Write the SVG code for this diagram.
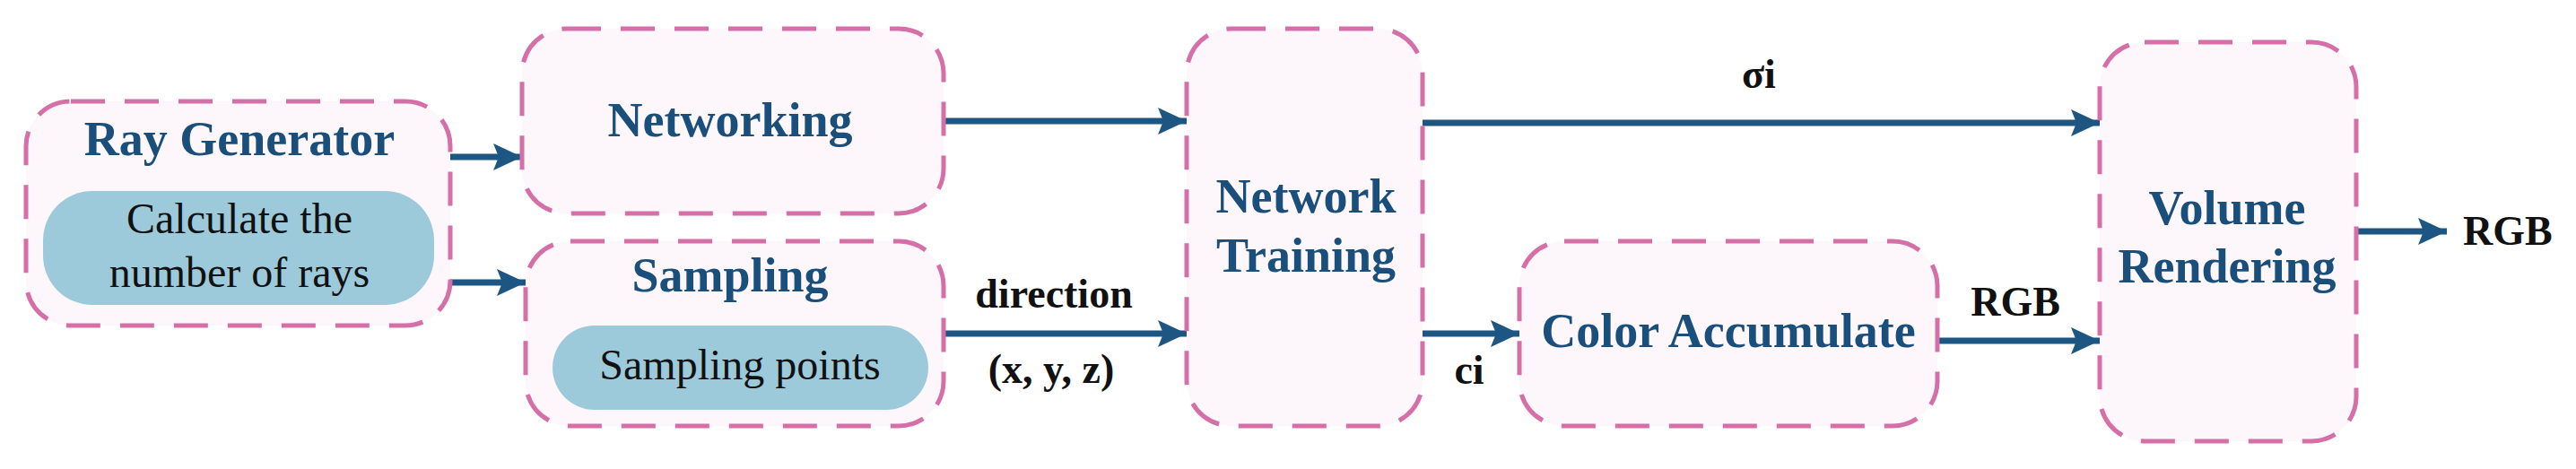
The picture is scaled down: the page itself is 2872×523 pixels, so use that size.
<svg xmlns="http://www.w3.org/2000/svg" width="2872" height="523" viewBox="0 0 2872 523">
<style>
.box{fill:#fdf6fa;stroke:#d56fa8;stroke-width:5;stroke-dasharray:38 22}
.pill{fill:#9dcadb}
.t{font-family:"Liberation Serif",serif;font-weight:bold;font-size:54px;fill:#1b4f7b;text-anchor:middle}
.s{font-family:"Liberation Serif",serif;font-size:48px;fill:#111;text-anchor:middle}
.l{font-family:"Liberation Serif",serif;font-weight:bold;font-size:46px;fill:#111;text-anchor:middle}
.c{stroke:#1d5583;stroke-width:7;fill:none;marker-end:url(#ah)}
</style>
<defs>
<marker id="ah" markerWidth="32" markerHeight="30" refX="32" refY="15" markerUnits="userSpaceOnUse" orient="auto">
<path d="M0,0 L32,15 L0,30 L6,15 Z" fill="#1d5583"/>
</marker>
</defs>
<rect width="2872" height="523" fill="#fff"/>
<g id="connectors">
<line class="c" x1="502" y1="175" x2="582" y2="175"/>
<line class="c" x1="502" y1="315" x2="586" y2="315"/>
<line class="c" x1="1052" y1="135" x2="1323" y2="135"/>
<line class="c" x1="1052" y1="372" x2="1323" y2="372"/>
<line class="c" x1="1586" y1="137" x2="2341" y2="137"/>
<line class="c" x1="1586" y1="372" x2="1694" y2="372"/>
<line class="c" x1="2160" y1="380" x2="2341" y2="380"/>
<line class="c" x1="2627" y1="258" x2="2728" y2="258"/>
<text class="l" x="1175" y="343">direction</text>
<text class="l" x="1172" y="427">(x, y, z)</text>
<text class="l" x="1961" y="98">σi</text>
<text class="l" x="1638" y="428">ci</text>
<text class="l" x="2247" y="352">RGB</text>
<text class="l" x="2746" y="273" style="text-anchor:start">RGB</text>
</g>
<g id="ray-generator">
<rect class="box" x="29" y="113" width="473" height="250" rx="50"/>
<text class="t" x="267" y="173">Ray Generator</text>
<rect class="pill" x="48" y="213" width="436" height="127" rx="55"/>
<text class="s" x="267" y="260">Calculate the</text>
<text class="s" x="267" y="320">number of rays</text>
</g>
<g id="networking">
<rect class="box" x="582" y="32" width="470" height="206" rx="50"/>
<text class="t" x="814" y="152">Networking</text>
</g>
<g id="sampling">
<rect class="box" x="586" y="269" width="466" height="206" rx="50"/>
<text class="t" x="814" y="325">Sampling</text>
<rect class="pill" x="616" y="363" width="419" height="94" rx="47"/>
<text class="s" x="825" y="423">Sampling points</text>
</g>
<g id="network-training">
<rect class="box" x="1323" y="32" width="263" height="443" rx="50"/>
<text class="t" x="1456" y="237">Network</text>
<text class="t" x="1456" y="303">Training</text>
</g>
<g id="color-accumulate">
<rect class="box" x="1694" y="269" width="466" height="206" rx="50"/>
<text class="t" x="1927" y="387">Color Accumulate</text>
</g>
<g id="volume-rendering">
<rect class="box" x="2341" y="47" width="286" height="445" rx="50"/>
<text class="t" x="2483" y="250">Volume</text>
<text class="t" x="2483" y="315">Rendering</text>
</g>
</svg>
